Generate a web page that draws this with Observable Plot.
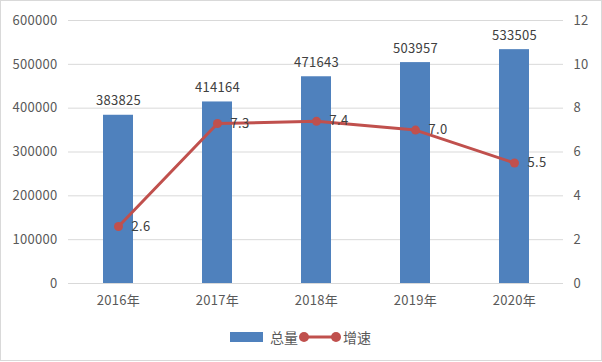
<!DOCTYPE html>
<html><head><meta charset="utf-8">
<script src="https://cdn.jsdelivr.net/npm/d3@7"></script>
<script src="https://cdn.jsdelivr.net/npm/@observablehq/plot@0.6"></script>
<style>
body{margin:0;background:#fff;}
#chart{width:600px;height:359px;border:1px solid #d9d9d9;position:relative;font-family:"Noto Sans CJK SC",sans-serif;overflow:hidden;}
#legend{position:absolute;left:0;top:310px;width:600px;height:49px;}
</style></head><body><div id="chart"><div id="plot"></div><div id="legend"></div></div>
<script>
const years = ["2016年","2017年","2018年","2019年","2020年"];
const totals = [383825, 414164, 471643, 503957, 533505];
const growth = [2.6, 7.3, 7.4, 7.0, 5.5];
const leftTicks = [0, 100000, 200000, 300000, 400000, 500000, 600000];
const rightTicks = [0, 2, 4, 6, 8, 10, 12];
const seriesNames = ["总量", "增速"];
const barColor = "#4F81BD";
const lineColor = "#C0504D";

const ratio = 600000 / 12;
const data = years.map((y, i) => ({year: y, total: totals[i], growth: growth[i], g: growth[i] * ratio}));

const plot = Plot.plot({
  width: 600, height: 310,
  marginLeft: 67, marginRight: 38, marginTop: 19, marginBottom: 28,
  style: {fontFamily: '"Noto Sans CJK SC", sans-serif', fontSize: "13px", color: "#595959", background: "#fff", letterSpacing: "0.3px"},
  x: {domain: years, paddingInner: 0.7, paddingOuter: 0.35, label: null},
  y: {domain: [0, 600000], label: null},
  marks: [
    Plot.gridY(leftTicks, {stroke: "#d9d9d9", strokeOpacity: 1}),
    Plot.axisY({ticks: leftTicks, tickSize: 0, tickPadding: 11, label: null, tickFormat: d => String(d)}),
    Plot.axisY({anchor: "right", ticks: rightTicks.map(t => t * ratio), tickFormat: d => String(Math.round(d / ratio)), tickSize: 0, tickPadding: 10, label: null}),
    Plot.axisX({tickSize: 0, tickPadding: 12, label: null}),
    Plot.barY(data, {x: "year", y: "total", fill: barColor}),
    Plot.text(data, {x: "year", y: "total", text: d => String(d.total), lineAnchor: "bottom", dy: -10, fill: "#404040"}),
    Plot.line(data, {x: "year", y: "g", stroke: lineColor, strokeWidth: 3}),
    Plot.dot(data, {x: "year", y: "g", r: 4.5, fill: lineColor}),
    Plot.text(data, {x: "year", y: "g", text: d => d.growth.toFixed(1), textAnchor: "start", dx: 13, fill: "#404040"})
  ]
});
document.getElementById("plot").appendChild(plot);

document.getElementById("legend").innerHTML = `
<svg width="600" height="49" style="font-family:'Noto Sans CJK SC',sans-serif;font-size:14px;fill:#595959">
  <rect x="229" y="21" width="33" height="10" fill="${barColor}"/>
  <text x="269" y="26" dominant-baseline="central">${seriesNames[0]}</text>
  <line x1="303" y1="26" x2="335" y2="26" stroke="${lineColor}" stroke-width="3"/>
  <circle cx="303" cy="26" r="5" fill="${lineColor}"/>
  <circle cx="335" cy="26" r="5" fill="${lineColor}"/>
  <text x="342" y="26" dominant-baseline="central">${seriesNames[1]}</text>
</svg>`;
</script></body></html>
